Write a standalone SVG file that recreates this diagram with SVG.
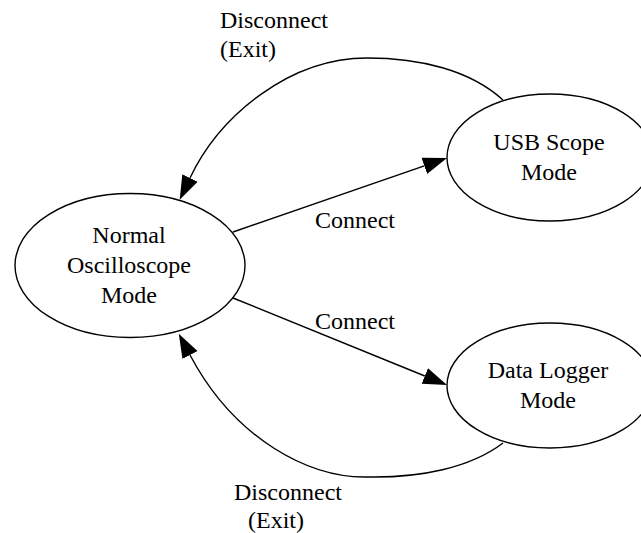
<svg xmlns="http://www.w3.org/2000/svg" width="641" height="533" viewBox="0 0 641 533">
<style>
.node{fill:#fff;stroke:#000;stroke-width:1.4}
.edge{fill:none;stroke:#000;stroke-width:1.4}
text{font-family:"Liberation Serif","Times New Roman",serif;font-size:24px;fill:#000;text-anchor:middle}
</style>
<defs>
<marker id="arr" markerUnits="userSpaceOnUse" markerWidth="26" markerHeight="20" viewBox="0 -10 26 20" refX="0" refY="0" orient="auto">
<path d="M0,-8.5 L24,0 L0,8.5 z" fill="#000"/>
</marker>
</defs>
<rect width="641" height="533" fill="#fff"/>
<g id="connectors">
<g id="e-normal-usb">
<path class="edge" d="M233,232 L424.3,165.9" marker-end="url(#arr)"/>
<text x="355" y="228">Connect</text>
</g>
<g id="e-normal-logger">
<path class="edge" d="M233,298 L424.8,376" marker-end="url(#arr)"/>
<text x="355" y="329">Connect</text>
</g>
<g id="e-usb-normal">
<path class="edge" d="M503,100 C470,70 420,58 367,58 C290,58 220,115 190,178" marker-end="url(#arr)"/>
<text x="274" y="28">Disconnect</text>
<text x="248" y="57">(Exit)</text>
</g>
<g id="e-logger-normal">
<path class="edge" d="M503,443 C470,468 420,478 367,477 C310,478 235,440 190,355" marker-end="url(#arr)"/>
<text x="288" y="500">Disconnect</text>
<text x="276" y="528">(Exit)</text>
</g>
</g>
<g id="normal">
<ellipse class="node" cx="130" cy="265.5" rx="115" ry="72"/>
<text x="129" y="243">Normal</text>
<text x="129" y="273">Oscilloscope</text>
<text x="129" y="303">Mode</text>
</g>
<g id="usb">
<ellipse class="node" cx="550" cy="157.5" rx="103" ry="63.5"/>
<text x="549" y="150">USB Scope</text>
<text x="549" y="180">Mode</text>
</g>
<g id="logger">
<ellipse class="node" cx="550" cy="385.5" rx="103" ry="62.5"/>
<text x="548" y="378">Data Logger</text>
<text x="548" y="408">Mode</text>
</g>
</svg>
